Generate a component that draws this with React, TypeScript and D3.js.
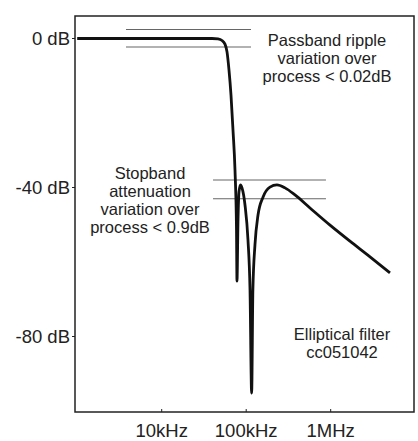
import React, { useEffect, useRef } from "react";
import * as d3 from "d3";

// response: frequency in Hz, gain in dB
const freqs = [
  1000, 39400, 46400, 51700, 56100, 59300, 62600, 66100, 69800, 73700, 76800,
  77800, 80000, 82200, 85600, 89200, 96800, 105000, 111000, 116000, 120000,
  127000, 138000, 158000, 191000, 231000, 288000, 378000, 569000, 982000,
  1690000, 2920000, 5030000,
];
const gains = [
  0, 0, -0.13, -0.54, -1.5, -3.6, -8.5, -15.2, -24.6, -35.3, -51.4, -65.1,
  -48.7, -41.2, -39.3, -40.1, -44.7, -54.1, -67.5, -95.2, -67.5, -55.4, -47.4,
  -42.6, -39.9, -39.3, -40.1, -42.0, -45.5, -50.1, -54.4, -58.6, -62.9,
];

const yTicks = [0, -40, -80];
const yTickLabels = ["0 dB", "-40 dB", "-80 dB"];
const xTicks = [1e4, 1e5, 1e6];
const xTickLabels = ["10kHz", "100kHz", "1MHz"];

// marker lines: [dB, fromHz, toHz]
const passbandLines = [
  [2.4, 3780, 114000],
  [-2.3, 3780, 114000],
];
const stopbandLines = [
  [-38, 40500, 879000],
  [-43, 40500, 879000],
];

const notes = [
  { lines: ["Passband ripple", "variation over", "process < 0.02dB"], x: 327, y: 46 },
  { lines: ["Stopband", "attenuation", "variation over", "process < 0.9dB"], x: 150, y: 179 },
  { lines: ["Elliptical filter", "cc051042"], x: 342, y: 340 },
];

const width = 418;
const height = 441;
const left = 75;
const right = 414;
const top = 16;
const bottom = 412;

export default function App() {
  const svgRef = useRef<SVGSVGElement | null>(null);

  useEffect(() => {
    const svg = d3.select(svgRef.current);
    svg.selectAll("*").remove();

    const x = d3.scaleLog().domain([942, 9.68e6]).range([left, right]);
    const y = d3.scaleLinear().domain([0, -80]).range([38.5, 336.5]);

    const font = "'Liberation Sans', Arial, Helvetica, sans-serif";
    const ink = "#222";

    // marker lines
    [...passbandLines, ...stopbandLines].forEach(([db, f0, f1]) => {
      svg
        .append("line")
        .attr("x1", x(f0))
        .attr("x2", x(f1))
        .attr("y1", y(db))
        .attr("y2", y(db))
        .attr("stroke", "#666")
        .attr("stroke-width", 1.1);
    });

    const lineFunction = d3
      .line<number>()
      .x((d, i) => x(freqs[i]))
      .y((d) => y(d))
      .curve(d3.curveMonotoneX);

    svg
      .append("path")
      .datum(gains)
      .attr("fill", "none")
      .attr("stroke", "#111")
      .attr("stroke-width", 2.8)
      .attr("stroke-linejoin", "round")
      .attr("d", lineFunction);

    // frame
    svg
      .append("rect")
      .attr("x", left)
      .attr("y", top)
      .attr("width", right - left)
      .attr("height", bottom - top)
      .attr("fill", "none")
      .attr("stroke", ink)
      .attr("stroke-width", 1.5);

    // y ticks
    yTicks.forEach((t, i) => {
      svg
        .append("line")
        .attr("x1", left - 3)
        .attr("x2", left)
        .attr("y1", y(t))
        .attr("y2", y(t))
        .attr("stroke", ink)
        .attr("stroke-width", 1);
      svg
        .append("text")
        .attr("x", 70)
        .attr("y", y(t) + 6.5)
        .attr("text-anchor", "end")
        .attr("font-family", font)
        .attr("font-size", 18.5)
        .attr("fill", ink)
        .text(yTickLabels[i]);
    });

    // x ticks
    xTicks.forEach((t, i) => {
      svg
        .append("line")
        .attr("x1", x(t))
        .attr("x2", x(t))
        .attr("y1", bottom - 3)
        .attr("y2", bottom)
        .attr("stroke", ink)
        .attr("stroke-width", 1);
      svg
        .append("text")
        .attr("x", x(t))
        .attr("y", 437)
        .attr("text-anchor", "middle")
        .attr("font-family", font)
        .attr("font-size", 18.5)
        .attr("fill", ink)
        .text(xTickLabels[i]);
    });

    notes.forEach((n) => {
      const t = svg
        .append("text")
        .attr("text-anchor", "middle")
        .attr("font-family", font)
        .attr("font-size", 16.5)
        .attr("fill", ink);
      n.lines.forEach((s, i) => {
        t.append("tspan").attr("x", n.x).attr("y", n.y + i * 18).text(s);
      });
    });
  }, []);

  return (
    <svg
      ref={svgRef}
      width={width}
      height={height}
      style={{ position: "absolute", left: 0, top: 0, background: "#fff" }}
    ></svg>
  );
}
